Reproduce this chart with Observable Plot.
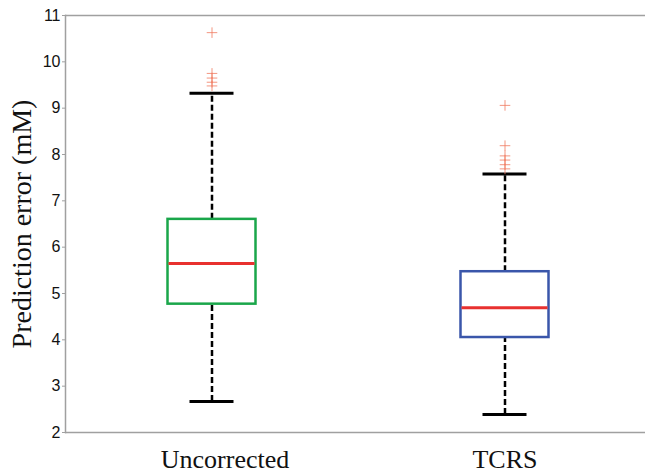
<!DOCTYPE html>
<html>
<head>
<meta charset="utf-8">
<script src="https://cdn.jsdelivr.net/npm/d3@7"></script>
<script src="https://cdn.jsdelivr.net/npm/@observablehq/plot@0.6"></script>
<style>
  html, body { margin: 0; padding: 0; background: #fff; }
</style>
</head>
<body>
<div id="chart"></div>
<script>
const categories = ["Uncorrected", "TCRS"];
const lowerWhisker = [2.67, 2.39];
const q1 = [4.77, 4.05];
const median = [5.65, 4.69];
const q3 = [6.60, 5.47];
const upperWhisker = [9.32, 7.58];
const uncorrectedOutliers = [10.63, 9.75, 9.65, 9.56, 9.48];
const tcrsOutliers = [9.06, 8.19, 7.97, 7.88, 7.78, 7.69];
const boxColors = ["#1aa64a", "#3a56aa"];
const yTicks = [2, 3, 4, 5, 6, 7, 8, 9, 10, 11];

const boxes = categories.map((c, i) => ({
  cat: c, lo: lowerWhisker[i], q1: q1[i], med: median[i], q3: q3[i], hi: upperWhisker[i], color: boxColors[i]
}));
const outliers = [
  ...uncorrectedOutliers.map(v => ({cat: "Uncorrected", v})),
  ...tcrsOutliers.map(v => ({cat: "TCRS", v}))
];

const W = 645, H = 476;
const bandInsetBox = 102.5;
const bandInsetCap = 124.5;
const serif = "Liberation Serif, Times New Roman, serif";

const chart = Plot.plot({
  width: W,
  height: H,
  marginLeft: 65,
  marginRight: 0,
  marginTop: 15,
  marginBottom: 44,
  style: {fontFamily: "Liberation Sans, Arial, sans-serif", fontSize: "16px", color: "#111", background: "#fff"},
  x: {type: "band", domain: categories, range: [65, 651], padding: 0, axis: null},
  y: {domain: [2, 11], axis: null},
  color: {type: "identity"},
  marks: [
    Plot.ruleY([11], {stroke: "#a0a0a0", strokeWidth: 1.5}),
    Plot.ruleY([2], {stroke: "#a0a0a0", strokeWidth: 1.5}),
    Plot.frame({anchor: "left", stroke: "#a0a0a0", strokeWidth: 1.5}),
    Plot.axisY({ticks: yTicks, tickSize: 3, tickPadding: 2, stroke: "#a0a0a0", fontSize: 16, fill: "#111", label: null}),
    Plot.text(["Prediction error (mM)"], {frameAnchor: "left", textAnchor: "middle", rotate: -90, dx: -43, fontFamily: serif, fontSize: 28, fill: "#111"}),
    Plot.axisX({ticks: ["Uncorrected"], tickSize: 0, tickPadding: 0, dy: 17, dx: 13, fontFamily: serif, fontSize: 26, fill: "#111", label: null}),
    Plot.axisX({ticks: ["TCRS"], tickSize: 0, tickPadding: 0, dy: 17, fontFamily: serif, fontSize: 26, fill: "#111", label: null}),
    // whiskers
    Plot.ruleX(boxes, {x: "cat", y1: "q3", y2: "hi", stroke: "#000", strokeWidth: 2.5, strokeDasharray: "6,3"}),
    Plot.ruleX(boxes, {x: "cat", y1: "lo", y2: "q1", stroke: "#000", strokeWidth: 2.5, strokeDasharray: "6,3"}),
    // caps
    Plot.tickY(boxes, {x: "cat", y: "hi", stroke: "#000", strokeWidth: 3, inset: bandInsetCap}),
    Plot.tickY(boxes, {x: "cat", y: "lo", stroke: "#000", strokeWidth: 3, inset: bandInsetCap}),
    // boxes
    Plot.rect(boxes, {x: "cat", y1: "q1", y2: "q3", fill: "none", stroke: "color", strokeWidth: 2.5, insetLeft: bandInsetBox, insetRight: bandInsetBox}),
    // medians
    Plot.tickY(boxes, {x: "cat", y: "med", stroke: "#e8312f", strokeWidth: 3, inset: bandInsetBox + 1}),
    // outliers
    Plot.dot(outliers, {x: "cat", y: "v", symbol: "plus", r: 3.5, stroke: "#f07a60", strokeOpacity: 0.8, strokeWidth: 1})
  ]
});
document.getElementById("chart").appendChild(chart);
</script>
</body>
</html>
